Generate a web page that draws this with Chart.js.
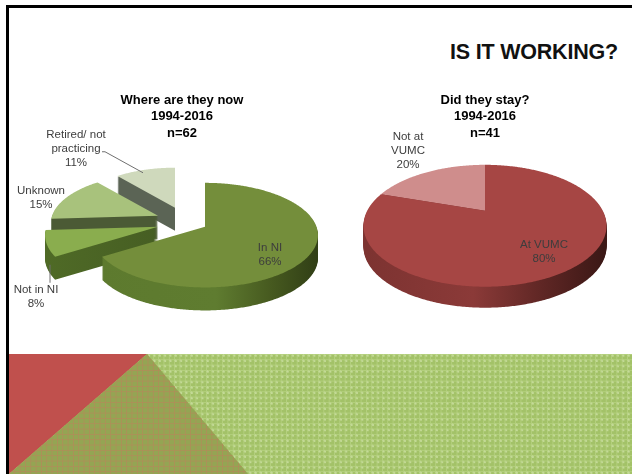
<!DOCTYPE html>
<html>
<head>
<meta charset="utf-8">
<title>Is it working?</title>
<script src="https://cdn.jsdelivr.net/npm/chart.js@4/dist/chart.umd.min.js"></script>
<style>
  html, body { margin: 0; padding: 0; background: #fff; }
  body { position: relative; width: 632px; height: 474px; overflow: hidden; font-family: "Liberation Sans", sans-serif; }
  .frame-top { position: absolute; left: 6px; top: 5px; width: 626px; height: 3px; background: #000; }
  .frame-left { position: absolute; left: 6px; top: 5px; width: 3px; height: 469px; background: #000; }
  .band, .band div { position: absolute; }
  .band { left: 9px; top: 354px; width: 623px; height: 120px; overflow: hidden; }
  .weave { inset: 0;
    background-color: #a3c268;
    background-image:
      radial-gradient(circle at 1.5px 1.5px, #c4da98 0 1px, transparent 1.2px),
      linear-gradient(#b4d07e 1px, transparent 1px),
      linear-gradient(90deg, #b4d07e 1px, transparent 1px);
    background-size: 5.33px 5.33px; }
  .wedge-red { inset: 0; background: #c0504d; clip-path: polygon(0 0, 138px 0, 0 120px); }
  .wedge-mix { inset: 0;
    background-color: #94a553;
    background-image:
      linear-gradient(#ad8f58 1px, transparent 1px),
      linear-gradient(90deg, #ad8f58 1px, transparent 1px);
    background-size: 5.33px 5.33px;
    clip-path: polygon(138px 0, 239px 120px, 0 120px); }
  h1 { position: absolute; margin: 0; right: 14px; top: 39px; font-size: 21.5px; line-height: 26px; font-weight: 700; color: #111; letter-spacing: -0.2px; }
  canvas { position: absolute; }
  #whereChart { left: 8px; top: 90px; }
  #stayChart { left: 340px; top: 90px; }
</style>
</head>
<body>
<div class="frame-top"></div>
<div class="frame-left"></div>
<h1>IS IT WORKING?</h1>
<div class="band">
  <div class="weave"></div>
  <div class="wedge-red"></div>
  <div class="wedge-mix"></div>
</div>
<canvas id="whereChart" width="348" height="250"></canvas>
<canvas id="stayChart" width="290" height="250"></canvas>
<script>
// Outcomes of programme graduates
const whereCategories = ['In NI', 'Not in NI', 'Unknown', 'Retired/ not practicing'];
const whereValues = [66, 8, 15, 11];
const whereTitle = ['Where are they now', '1994-2016', 'n=62'];
const whereLabelLines = [['In NI', '66%'], ['Not in NI', '8%'], ['Unknown', '15%'], ['Retired/ not', 'practicing', '11%']];

const stayCategories = ['At VUMC', 'Not at VUMC'];
const stayValues = [80, 20];
const stayTitle = ['Did they stay?', '1994-2016', 'n=41'];
const stayLabelLines = [['At VUMC', '80%'], ['Not at', 'VUMC', '20%']];

// Slice styling
const whereTops = ['#748e3b', '#8aad4e', '#a8c27c', '#cfd9bc'];
const whereSides = [
  [[0, '#5d7a2e'], [0.55, '#5f7c30'], [0.8, '#46591f'], [1, '#313f16']],
  [[0, '#4f6a26'], [1, '#3d5220']],
  [[0, '#4b5a35'], [1, '#4b5a35']],
  [[0, '#5b6455'], [1, '#5b6455']]
];
const stayTops = ['#a64644', '#cf8d8c'];
const staySides = [
  [[0, '#7d3331'], [0.45, '#8b3a38'], [0.75, '#5e2624'], [1, '#3c1816']],
  [[0, '#7d3331'], [1, '#7d3331']]
];

// Each slice: pull-out on screen and radial scale, listed by category
const whereShiftX = [0, -47, -47, -30];
const whereShiftY = [0, 0, -11, -19];
const whereRadial = [1, 1, 0.95, 0.9];
const wherePaintOrder = [3, 2, 1, 0];
const stayShiftX = [0, 0];
const stayShiftY = [0, 0];
const stayRadial = [1, 1];
const stayPaintOrder = [1, 0];

// Label centres relative to the pie's apex
const whereLabelDX = [65, -169, -164, -129];
const whereLabelDY = [28, 70, -29, -78];
const stayLabelDX = [59, -77];
const stayLabelDY = [41, -60];

// Thin connector lines from outside labels, relative to the pie's apex
const whereLeaders = [
  [[-103, -75], [-100, -75], [-62, -54]],
  [[-155, 38], [-155, 56]]
];

// Perspective projection of the pie's plane, plus extruded rim
const perspectivePie = {
  id: 'perspectivePie',
  beforeDatasetDraw(chart, args, opts) {
    const ctx = chart.ctx;
    const arcs = chart.getDatasetMeta(args.index).data;
    const k = opts.perspective;
    const A = arcs[0].outerRadius;
    const B = A * opts.squash;
    const cx = arcs[0].x + opts.originDX;

    const trace = (i, drop) => {
      const arc = arcs[i];
      const s = opts.radial[i];
      const ox = cx + opts.shiftX[i];
      const oy = arc.y + opts.shiftY[i] + drop;
      ctx.beginPath();
      ctx.moveTo(ox, oy);
      const steps = Math.max(2, Math.ceil((arc.endAngle - arc.startAngle) * 90));
      for (let n = 0; n <= steps; n++) {
        const t = arc.startAngle + (arc.endAngle - arc.startAngle) * n / steps;
        const u = Math.cos(t) * s;
        const v = Math.sin(t) * s;
        const w = 1 - k * v;
        ctx.lineTo(ox + A * u / w, oy + B * v / w);
      }
      ctx.closePath();
    };

    opts.order.forEach((i) => {
      const grad = ctx.createLinearGradient(cx - A + opts.shiftX[i], 0, cx + A + opts.shiftX[i], 0);
      opts.sides[i].forEach(([stop, colour]) => grad.addColorStop(stop, colour));
      ctx.fillStyle = grad;
      for (let d = opts.depth; d >= 1; d--) {
        trace(i, d);
        ctx.fill();
      }
      trace(i, 0);
      ctx.fillStyle = opts.tops[i];
      ctx.fill();
    });
    return false;
  },
  afterDatasetsDraw(chart, args, opts) {
    const ctx = chart.ctx;
    const apex = chart.getDatasetMeta(0).data[0];
    const cx = apex.x + opts.originDX;
    ctx.save();
    ctx.strokeStyle = '#6f6f6f';
    ctx.lineWidth = 1;
    opts.leaders.forEach((line) => {
      ctx.beginPath();
      line.forEach(([dx, dy], n) => {
        if (n === 0) ctx.moveTo(cx + dx, apex.y + dy);
        else ctx.lineTo(cx + dx, apex.y + dy);
      });
      ctx.stroke();
    });
    ctx.font = opts.labelFont;
    ctx.fillStyle = opts.labelColour;
    ctx.textAlign = 'center';
    ctx.textBaseline = 'middle';
    opts.labels.forEach((lines, i) => {
      const top = apex.y + opts.labelDY[i] - (lines.length - 1) * 7;
      lines.forEach((text, n) => {
        ctx.fillText(text, cx + opts.labelDX[i], top + n * 14);
      });
    });
    ctx.restore();
  }
};

function pieConfig(categories, values, titleLines, extras) {
  return {
    type: 'pie',
    data: {
      labels: categories,
      datasets: [{ data: values, backgroundColor: extras.tops, borderWidth: 0, clip: false }]
    },
    options: {
      responsive: false,
      animation: false,
      events: [],
      radius: extras.radius,
      layout: { padding: extras.padding },
      plugins: {
        legend: { display: false },
        tooltip: { enabled: false },
        title: {
          display: true,
          text: titleLines,
          color: '#000',
          font: { family: '"Liberation Sans", sans-serif', size: 13, weight: 'bold', lineHeight: 1.27 },
          padding: 0
        },
        perspectivePie: extras
      }
    },
    plugins: [perspectivePie]
  };
}

const labelFont = '11.5px "Liberation Sans", sans-serif';

new Chart(document.getElementById('whereChart'), pieConfig(whereCategories, whereValues, whereTitle, {
  radius: 111.5,
  padding: { top: 2, left: 0, right: 0, bottom: 28 },
  originDX: 23,
  perspective: 0.16,
  squash: 0.457,
  depth: 23,
  tops: whereTops,
  sides: whereSides,
  shiftX: whereShiftX,
  shiftY: whereShiftY,
  radial: whereRadial,
  order: wherePaintOrder,
  labels: whereLabelLines,
  labelDX: whereLabelDX,
  labelDY: whereLabelDY,
  leaders: whereLeaders,
  labelFont,
  labelColour: '#3d3d3d'
}));

new Chart(document.getElementById('stayChart'), pieConfig(stayCategories, stayValues, stayTitle, {
  radius: 117.8,
  padding: { top: 2, left: 0, right: 0, bottom: 60 },
  originDX: 0,
  perspective: 0.246,
  squash: 0.486,
  depth: 21,
  tops: stayTops,
  sides: staySides,
  shiftX: stayShiftX,
  shiftY: stayShiftY,
  radial: stayRadial,
  order: stayPaintOrder,
  labels: stayLabelLines,
  labelDX: stayLabelDX,
  labelDY: stayLabelDY,
  leaders: [],
  labelFont,
  labelColour: '#3d3d3d'
}));
</script>
</body>
</html>
